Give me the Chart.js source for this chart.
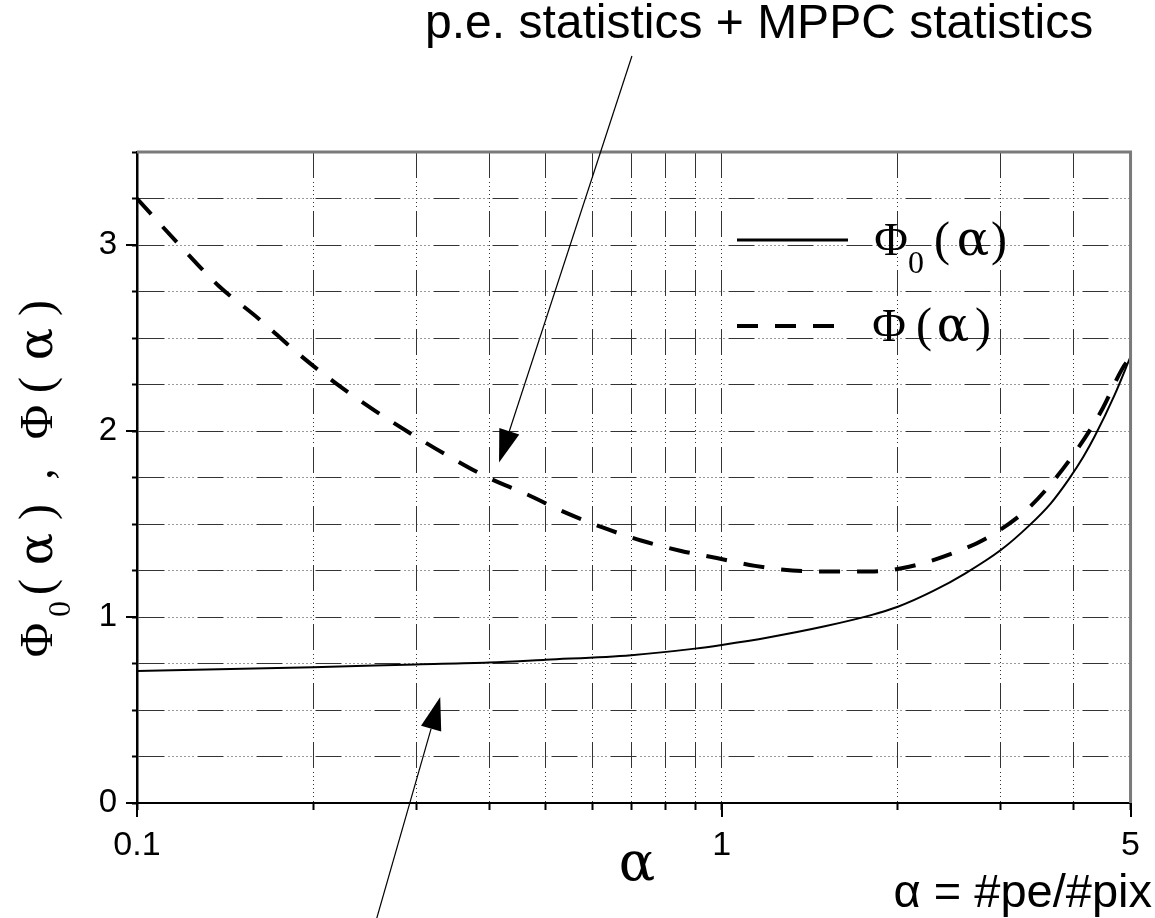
<!DOCTYPE html>
<html>
<head>
<meta charset="utf-8">
<script src="https://cdn.jsdelivr.net/npm/chart.js@4.4.1/dist/chart.umd.min.js"></script>
<style>
  body { margin: 0; background: #fff; }
</style>
</head>
<body>
<canvas id="phiChart" width="1155" height="918"></canvas>
<script>
// values
const alphaPhi0 = [0.1, 0.2, 0.3, 0.4, 0.5, 0.7, 0.9, 1.0, 1.2, 1.5, 1.8, 2.0, 2.3, 2.61, 3.0, 3.35, 3.65, 3.92, 4.15, 4.34, 4.69, 5.0];
const valuesPhi0 = [0.71, 0.73, 0.745, 0.755, 0.77, 0.795, 0.83, 0.85, 0.89, 0.95, 1.01, 1.055, 1.14, 1.235, 1.36, 1.49, 1.61, 1.74, 1.86, 1.97, 2.19, 2.4];

const alphaPhi = [0.1, 0.119, 0.138, 0.162, 0.188, 0.218, 0.255, 0.296, 0.343, 0.398, 0.464, 0.537, 0.627, 0.73, 0.852, 0.98, 1.14, 1.32, 1.55, 1.8, 2.09, 2.42, 2.82, 3.29, 3.62, 4.07, 4.46, 4.83, 5.0];
const valuesPhi = [3.25, 2.99, 2.78, 2.6, 2.42, 2.26, 2.11, 1.98, 1.86, 1.75, 1.66, 1.565, 1.48, 1.41, 1.355, 1.317, 1.275, 1.25, 1.245, 1.245, 1.27, 1.33, 1.42, 1.565, 1.7, 1.91, 2.11, 2.33, 2.4];

const xTickValues = [0.1, 0.2, 0.3, 0.4, 0.5, 0.6, 0.7, 0.8, 0.9, 1, 2, 3, 4, 5];
const xTickLabels = [0.1, 1, 5];
const yTickLabels = [0, 1, 2, 3];

const gridDash = [26, 4, 1, 3, 1, 3, 1, 3, 1, 3, 1, 3, 1, 3, 1, 4];

function toPoints(xs, ys) {
    return xs.map((x, i) => ({ x: x, y: ys[i] }));
}

// arrows: tail and tip in data units (alpha, phi)
const arrows = [
    { from: [0.702, 4.016], to: [0.416, 1.83] },
    { from: [0.257, -0.62], to: [0.330, 0.57] }
];

const serif = '"Liberation Serif", "DejaVu Serif", serif';
const greek = '"DejaVu Serif", "Liberation Serif", serif';

function drawArrow(ctx, x1, y1, x2, y2) {
    const ang = Math.atan2(y2 - y1, x2 - x1);
    const len = 33, half = 10.5;
    const bx = x2 - len * Math.cos(ang), by = y2 - len * Math.sin(ang);
    ctx.beginPath();
    ctx.moveTo(x1, y1);
    ctx.lineTo(bx, by);
    ctx.lineWidth = 1.2;
    ctx.strokeStyle = '#000';
    ctx.stroke();
    ctx.beginPath();
    ctx.moveTo(x2, y2);
    ctx.lineTo(bx + half * Math.sin(ang), by - half * Math.cos(ang));
    ctx.lineTo(bx - half * Math.sin(ang), by + half * Math.cos(ang));
    ctx.closePath();
    ctx.fillStyle = '#000';
    ctx.fill();
}

// glyphs drawn centred at the given offsets (serif math labels)
function drawGlyphs(ctx, glyphs) {
    ctx.textAlign = 'center';
    ctx.textBaseline = 'alphabetic';
    glyphs.forEach(g => {
        const fam = g[0] === '\u03B1' ? greek : serif;
        ctx.font = g[2] + 'px ' + fam;
        ctx.fillText(g[0], g[1], g[3] || 0);
    });
}

const decorations = {
    id: 'decorations',
    afterDatasetsDraw(chart) {
        const ctx = chart.ctx;
        const area = chart.chartArea;
        const xs = chart.scales.x, ys = chart.scales.y;
        ctx.save();

        // frame top / right
        ctx.strokeStyle = '#7a7a7a';
        ctx.lineWidth = 3;
        ctx.beginPath();
        ctx.moveTo(area.left, area.top);
        ctx.lineTo(area.right, area.top);
        ctx.lineTo(area.right, area.bottom);
        ctx.stroke();

        // longer major ticks
        ctx.strokeStyle = '#000';
        ctx.lineWidth = 2;
        yTickLabels.forEach(v => {
            const y = Math.round(ys.getPixelForValue(v));
            ctx.beginPath();
            ctx.moveTo(area.left - 11, y);
            ctx.lineTo(area.left, y);
            ctx.stroke();
        });
        xTickLabels.forEach(v => {
            const x = Math.round(xs.getPixelForValue(v));
            ctx.beginPath();
            ctx.moveTo(x, area.bottom);
            ctx.lineTo(x, area.bottom + 14);
            ctx.stroke();
        });

        // legend
        ctx.beginPath();
        ctx.lineWidth = 3;
        ctx.moveTo(737, 240);
        ctx.lineTo(848, 240);
        ctx.stroke();
        ctx.beginPath();
        ctx.lineWidth = 4;
        ctx.setLineDash([21, 17]);
        ctx.moveTo(737, 326);
        ctx.lineTo(836, 326);
        ctx.stroke();
        ctx.setLineDash([]);

        ctx.fillStyle = '#000';
        drawGlyphs(ctx, [
            ['\u03A6', 891, 46, 255], ['0', 916, 32, 273], ['(', 942, 48, 255],
            ['\u03B1', 973, 48, 255], [')', 999, 48, 255]
        ]);
        drawGlyphs(ctx, [
            ['\u03A6', 889, 46, 341], ['(', 924, 48, 341],
            ['\u03B1', 953, 48, 341], [')', 983, 48, 341]
        ]);

        // y axis title, rotated
        ctx.save();
        ctx.translate(52, 657);
        ctx.rotate(-Math.PI / 2);
        drawGlyphs(ctx, [
            ['\u03A6', 17, 47, 0], ['0', 48, 32, 18], ['(', 70, 48, 0],
            ['\u03B1', 108, 48, 0], [')', 145, 48, 0], [',', 183, 46, 0],
            ['\u03A6', 235, 47, 0], ['(', 272, 48, 0], ['\u03B1', 313, 48, 0],
            [')', 349, 48, 0]
        ]);
        ctx.restore();

        // x axis title
        drawGlyphs(ctx, [['\u03B1', 637, 54, 880]]);

        // annotations
        ctx.font = '48px "Liberation Sans", Arial, sans-serif';
        ctx.textAlign = 'left';
        ctx.textBaseline = 'alphabetic';
        ctx.fillText('p.e. statistics + MPPC statistics', 425, 38);
        ctx.font = '47px "Liberation Sans", Arial, sans-serif';
        ctx.textAlign = 'right';
        ctx.fillText('\u03B1 = #pe/#pix', 1152, 907);

        arrows.forEach(a => {
            drawArrow(ctx,
                xs.getPixelForValue(a.from[0]), ys.getPixelForValue(a.from[1]),
                xs.getPixelForValue(a.to[0]), ys.getPixelForValue(a.to[1]));
        });

        ctx.restore();
    }
};

const ctx = document.getElementById('phiChart').getContext('2d');
new Chart(ctx, {
    type: 'line',
    data: {
        datasets: [{
            label: '\u03A60(\u03B1)',
            data: toPoints(alphaPhi0, valuesPhi0),
            borderColor: '#000',
            borderWidth: 2,
            pointRadius: 0,
            cubicInterpolationMode: 'monotone',
            fill: false
        }, {
            label: '\u03A6(\u03B1)',
            data: toPoints(alphaPhi, valuesPhi),
            borderColor: '#000',
            borderWidth: 4,
            borderDash: [21, 17],
            pointRadius: 0,
            cubicInterpolationMode: 'monotone',
            fill: false
        }]
    },
    options: {
        responsive: false,
        animation: false,
        layout: { padding: { left: 0, right: 20, top: 152, bottom: 0 } },
        plugins: {
            legend: { display: false },
            tooltip: { enabled: false }
        },
        scales: {
            x: {
                type: 'logarithmic',
                min: 0.1,
                max: 5,
                afterBuildTicks: scale => {
                    scale.ticks = xTickValues.map(v => ({ value: v }));
                },
                afterFit: scale => { scale.height = 115; },
                grid: {
                    color: '#333',
                    lineWidth: 1,
                    tickLength: 7,
                    tickColor: '#000',
                    tickWidth: 2
                },
                border: { display: true, color: '#000', width: 2, dash: gridDash },
                ticks: {
                    autoSkip: false,
                    maxRotation: 0,
                    padding: 15,
                    color: '#000',
                    font: { family: '"Liberation Sans", Arial, sans-serif', size: 34 },
                    callback: value => xTickLabels.includes(value) ? String(value) : ''
                }
            },
            y: {
                type: 'linear',
                min: 0,
                max: 3.5,
                afterFit: scale => { scale.width = 137; },
                grid: {
                    color: '#333',
                    lineWidth: 1,
                    tickLength: 5,
                    tickColor: '#000',
                    tickWidth: 2
                },
                border: { display: true, color: '#000', width: 2.5, dash: gridDash },
                ticks: {
                    stepSize: 0.25,
                    autoSkip: false,
                    padding: 15,
                    color: '#000',
                    font: { family: '"Liberation Sans", Arial, sans-serif', size: 33 },
                    callback: value => yTickLabels.includes(value) ? String(value) : ''
                }
            }
        }
    },
    plugins: [decorations]
});
</script>
</body>
</html>
